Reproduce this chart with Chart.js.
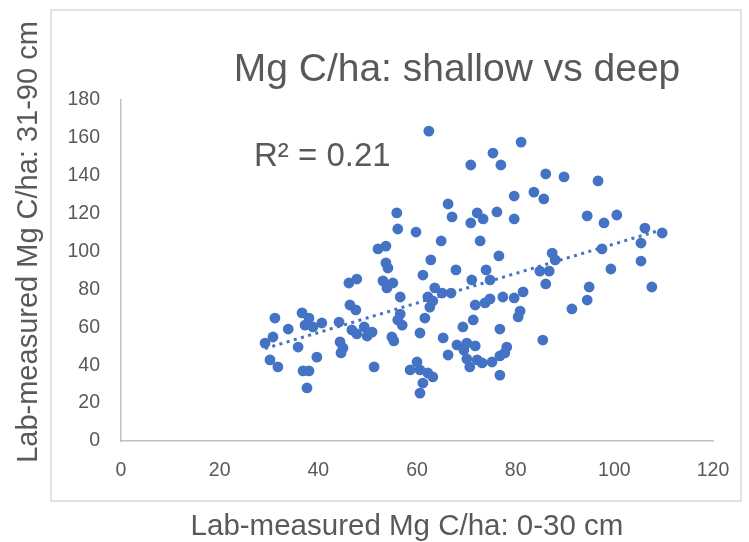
<!DOCTYPE html>
<html>
<head>
<meta charset="utf-8">
<script src="https://cdn.jsdelivr.net/npm/chart.js@4/dist/chart.umd.min.js"></script>
<style>
  html, body { margin: 0; padding: 0; background: #ffffff; }
  #wrap { width: 749px; height: 542px; }
</style>
</head>
<body>
<div id="wrap"><canvas id="c" width="749" height="542"></canvas></div>
<script>
// ---- Data ----
const chartTitle = "Mg C/ha: shallow vs deep";
const xAxisTitle = "Lab-measured Mg C/ha: 0-30 cm";
const yAxisTitle = "Lab-measured Mg C/ha: 31-90 cm";
const r2Label = "R\u00B2 = 0.21";

const xTicks = [0, 20, 40, 60, 80, 100, 120];
const yTicks = [0, 20, 40, 60, 80, 100, 120, 140, 160, 180];

// shallow (0-30 cm) values
const shallow = [62.4,81.1,75.4,77.0,70.9,86.1,89.8,96.7,79.7,83.7,
  85.7,66.3,55.9,67.1,72.2,73.4,70.9,76.2,79.7,94.5,
  97.9,100.5,106.2,109.7,56.1,59.8,64.9,72.8,105.4,97.5,
  52.1,53.7,62.8,76.6,87.4,88.0,105.4,99.3,84.9,86.8,
  86.1,94.9,107.6,94.5,91.4,85.5,53.7,54.1,67.9,61.2,
  71.1,74.0,74.8,46.2,47.8,53.1,55.1,53.9,56.6,63.6,
  62.2,63.2,65.1,66.9,62.6,61.6,71.8,73.8,74.8,77.4,
  79.7,81.5,80.9,80.5,46.4,47.6,56.6,56.1,57.0,60.6,
  69.3,71.4,76.8,65.3,54.9,55.3,31.2,36.7,38.1,37.3,
  38.9,40.7,33.9,44.2,46.8,49.3,50.9,49.9,47.8,29.2,
  30.8,35.9,44.4,45.0,44.6,39.7,30.2,31.8,51.3,36.9,
  38.1,37.7,68.1,70.1,71.8,69.5,66.3,70.1,72.2,70.7,
  73.2,75.2,76.8,78.2,77.8,76.8,60.0,60.6,62.2,63.2,
  61.2,60.6,58.6];

// deep (31-90 cm) values
const deep = [163.6,157.8,152.0,145.7,145.7,141.0,139.4,137.3,129.3,131.4,
  127.8,125.1,120.4,118.3,120.4,117.2,115.1,120.9,117.2,118.8,
  115.1,119.3,112.4,109.8,111.9,110.3,105.6,105.6,104.5,101.4,
  101.4,102.9,95.6,97.7,99.2,95.6,95.0,90.8,89.7,89.7,
  82.9,81.3,81.3,74.4,69.7,53.3,94.0,91.3,90.3,87.6,
  85.0,90.3,85.0,83.4,85.5,84.5,83.4,80.8,76.0,80.8,
  76.0,73.9,78.1,78.1,70.7,64.9,71.8,72.9,75.0,76.0,
  75.5,78.7,68.6,65.5,71.8,69.2,67.0,63.9,61.2,57.0,
  60.2,63.9,59.1,54.4,54.9,52.8,64.9,67.6,64.9,61.2,
  60.2,62.3,59.1,62.8,58.6,60.2,57.5,55.4,56.5,51.7,
  54.9,49.6,52.3,49.1,46.5,44.3,42.8,39.1,39.1,37.0,
  37.0,28.0,50.7,51.7,50.2,48.0,45.4,43.3,42.8,39.1,
  41.2,41.7,44.9,49.6,46.5,34.8,41.7,37.5,35.9,33.8,
  30.6,25.3,37.5];

// ---- Derived: points and least-squares trendline ----
const points = shallow.map((v, i) => ({ x: v, y: deep[i] }));
const n = shallow.length;
const mx = shallow.reduce((a, b) => a + b, 0) / n;
const my = deep.reduce((a, b) => a + b, 0) / n;
let sxy = 0, sxx = 0;
for (let i = 0; i < n; i++) { sxy += (shallow[i] - mx) * (deep[i] - my); sxx += (shallow[i] - mx) ** 2; }
const slope = sxy / sxx;
const intercept = my - slope * mx;
const xMin = Math.min(...shallow), xMax = Math.max(...shallow);
const trend = [{ x: xMin, y: intercept + slope * xMin }, { x: xMax, y: intercept + slope * xMax }];

const BLUE = '#4472C4';
const FONT = '"Liberation Sans", Arial, sans-serif';

const decor = {
  id: 'decor',
  beforeDraw(chart) {
    const ctx = chart.ctx;
    ctx.save();
    ctx.fillStyle = '#ffffff';
    ctx.fillRect(0, 0, chart.width, chart.height);
    ctx.strokeStyle = '#d9d9d9';
    ctx.lineWidth = 1.5;
    ctx.strokeRect(51, 10, 690, 491);
    ctx.restore();
  },
  afterDraw(chart) {
    const ctx = chart.ctx;
    ctx.save();
    ctx.fillStyle = '#595959';
    ctx.textBaseline = 'alphabetic';
    ctx.textAlign = 'center';
    ctx.font = '39px ' + FONT;
    ctx.fillText(chartTitle, 457, 81);
    ctx.textAlign = 'left';
    ctx.font = '33px ' + FONT;
    ctx.fillText(r2Label, 254, 166);
    ctx.textAlign = 'center';
    ctx.font = '29.5px ' + FONT;
    ctx.fillText(xAxisTitle, 407, 535);
    ctx.font = '29px ' + FONT;
    ctx.translate(29, 242);
    ctx.rotate(-Math.PI / 2);
    ctx.textBaseline = 'middle';
    ctx.fillText(yAxisTitle, 0, 0);
    ctx.restore();
  }
};

new Chart(document.getElementById('c'), {
  type: 'scatter',
  data: {
    datasets: [
      {
        type: 'line',
        label: 'Trend',
        data: trend,
        borderColor: BLUE,
        borderWidth: 3,
        borderDash: [3, 4.5],
        pointRadius: 0,
        fill: false,
        order: 0
      },
      {
        label: 'Samples',
        data: points,
        backgroundColor: BLUE,
        borderColor: BLUE,
        borderWidth: 0,
        pointRadius: 5.4,
        order: 1
      }
    ]
  },
  options: {
    responsive: false,
    animation: false,
    devicePixelRatio: 1,
    layout: { padding: { top: 100, right: 36, bottom: 0, left: 0 } },
    plugins: { legend: { display: false }, tooltip: { enabled: false }, title: { display: false } },
    scales: {
      x: {
        type: 'linear',
        min: xTicks[0],
        max: xTicks[xTicks.length - 1],
        afterBuildTicks(scale) { scale.ticks = xTicks.map(v => ({ value: v })); },
        afterFit(scale) { scale.height = 101; },
        grid: { display: false },
        border: { display: true, color: '#bfbfbf', width: 1.5 },
        ticks: { color: '#595959', font: { family: FONT, size: 19.5 }, padding: 10, maxRotation: 0, autoSkip: false }
      },
      y: {
        type: 'linear',
        min: yTicks[0],
        max: yTicks[yTicks.length - 1],
        afterBuildTicks(scale) { scale.ticks = yTicks.map(v => ({ value: v })); },
        afterFit(scale) { scale.width = 121; },
        grid: { display: false },
        border: { display: true, color: '#bfbfbf', width: 1.5 },
        ticks: { color: '#595959', font: { family: FONT, size: 19.5 }, padding: 13, autoSkip: false }
      }
    }
  },
  plugins: [decor]
});
</script>
</body>
</html>
